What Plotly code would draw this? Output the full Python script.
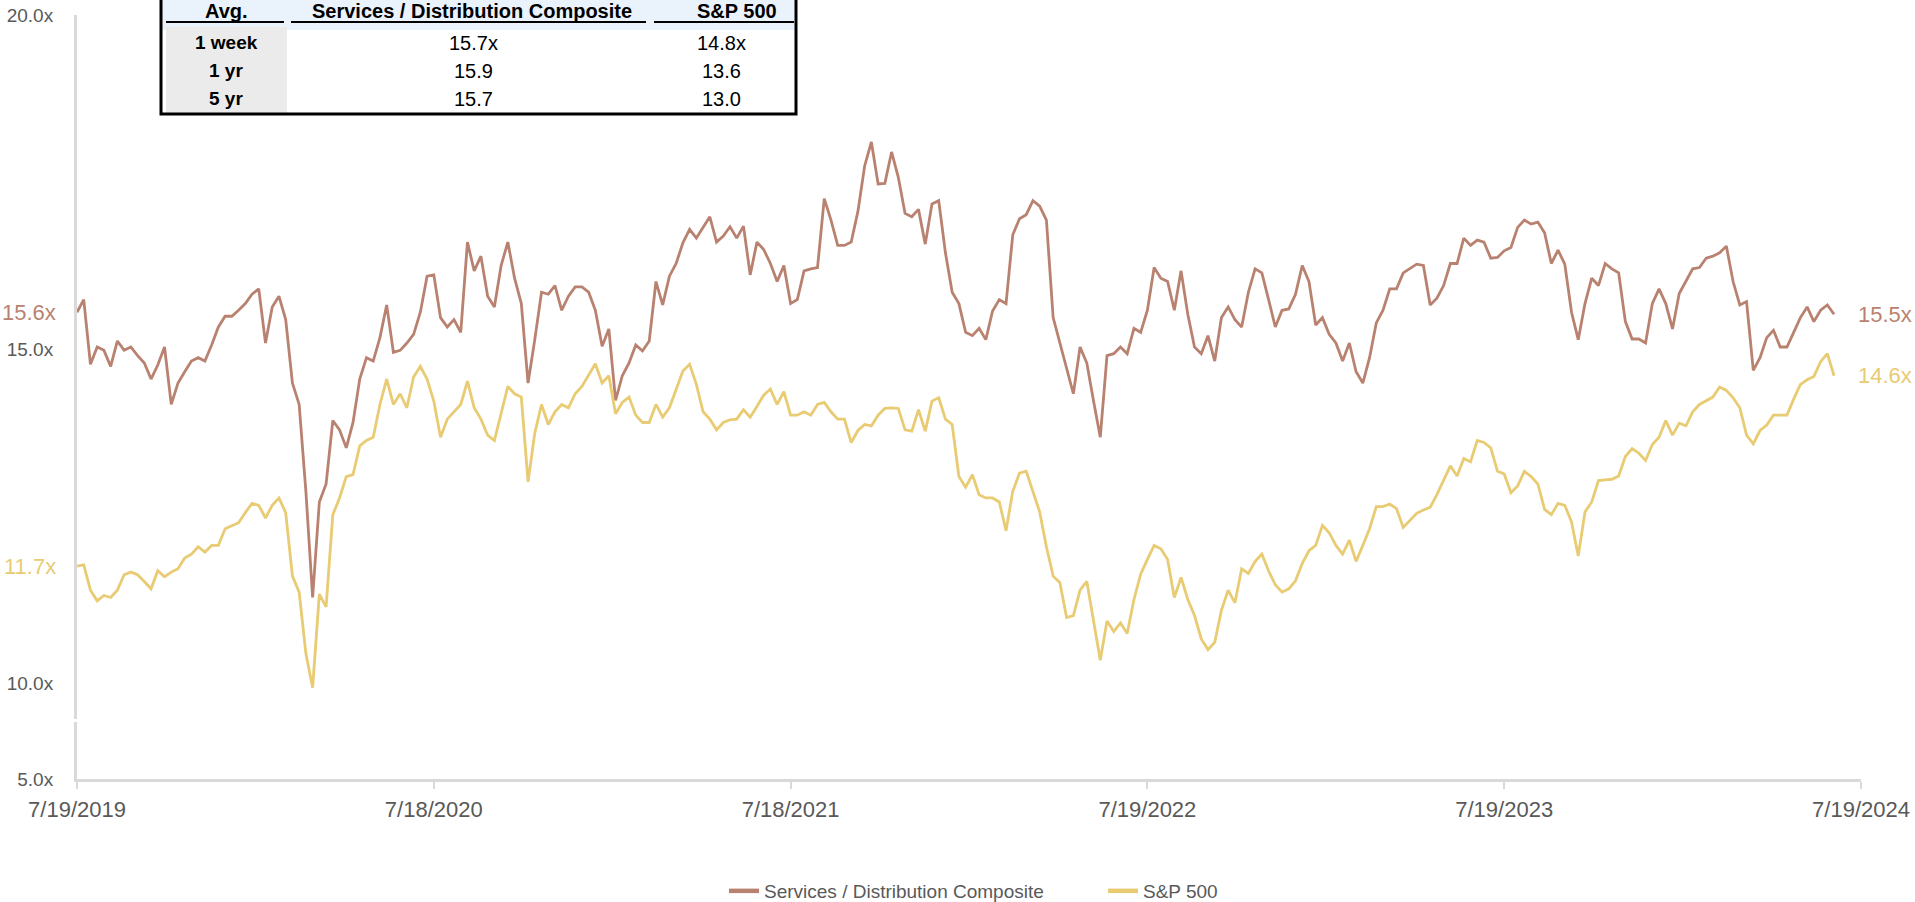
import plotly.graph_objects as go
import pandas as pd

# ---------------- data (weekly readings, 7/19/2019 - 7/19/2024) ----------------
week_dates = pd.date_range("2019-07-19", periods=262, freq="7D")

composite = [
    15.55, 15.74, 14.77, 15.03, 14.98, 14.74, 15.12, 14.98, 15.03, 14.90,
    14.79, 14.55, 14.76, 15.03, 14.17, 14.49, 14.66, 14.82, 14.87, 14.82,
    15.06, 15.33, 15.49, 15.49, 15.58, 15.68, 15.82, 15.90, 15.09, 15.63,
    15.79, 15.44, 14.49, 14.17, 12.87, 11.28, 12.71, 12.98, 13.93, 13.79,
    13.52, 13.90, 14.55, 14.87, 14.82, 15.17, 15.66, 14.95, 14.98, 15.09,
    15.22, 15.55, 16.09,
    16.11, 15.47, 15.33, 15.44, 15.25, 16.60, 16.17, 16.39, 15.79, 15.63,
    16.25, 16.60, 16.06, 15.68, 14.49, 15.14, 15.85, 15.82, 15.95, 15.58,
    15.79, 15.93, 15.93, 15.85, 15.58, 15.04, 15.30, 14.23, 14.60, 14.79,
    15.06, 14.97, 15.12, 16.01, 15.66, 16.09, 16.28, 16.59, 16.79, 16.66,
    16.83, 16.98, 16.60, 16.69, 16.83, 16.66, 16.84, 16.11, 16.60, 16.49,
    16.28, 16.01, 16.25,
    15.68, 15.74, 16.17, 16.20, 16.22, 17.25, 16.93, 16.55, 16.55, 16.60,
    17.06, 17.74, 18.10, 17.47, 17.48, 17.95, 17.57, 17.03, 16.98, 17.09,
    16.57, 17.17, 17.22, 16.44, 15.85, 15.68, 15.25, 15.20, 15.31, 15.14,
    15.57, 15.74, 15.68, 16.71, 16.95, 17.01, 17.22, 17.14, 16.93, 15.47,
    15.09, 14.71, 14.33, 15.03, 14.79, 14.22, 13.68, 14.90, 14.93, 15.03,
    14.93, 15.31, 15.25,
    15.58, 16.22, 16.06, 16.01, 15.58, 16.17, 15.52, 15.03, 14.93, 15.20,
    14.82, 15.47, 15.63, 15.44, 15.33, 15.85, 16.20, 16.14, 15.74, 15.33,
    15.58, 15.60, 15.82, 16.25, 16.01, 15.36, 15.47, 15.22, 15.09, 14.82,
    15.09, 14.66, 14.49, 14.87, 15.39, 15.58, 15.90, 15.90, 16.14, 16.20,
    16.27, 16.25, 15.66, 15.76, 15.95, 16.28, 16.28, 16.66, 16.55, 16.63,
    16.60, 16.36, 16.37,
    16.47, 16.52, 16.82, 16.93, 16.87, 16.90, 16.74, 16.28, 16.48, 16.27,
    15.55, 15.14, 15.68, 16.06, 15.95, 16.28, 16.20, 16.14, 15.41, 15.15,
    15.15, 15.09, 15.68, 15.90, 15.68, 15.30, 15.83, 16.01, 16.20, 16.22,
    16.36, 16.39, 16.44, 16.54, 16.01, 15.66, 15.71, 14.68, 14.87, 15.17,
    15.28, 15.03, 15.03, 15.25, 15.47, 15.63, 15.41, 15.58, 15.66, 15.52,
]

sp500 = [
    11.75, 11.77, 11.39, 11.23, 11.31, 11.28, 11.39, 11.62, 11.66, 11.62,
    11.52, 11.41, 11.68, 11.59, 11.66, 11.71, 11.87, 11.93, 12.04, 11.96,
    12.06, 12.06, 12.31, 12.36, 12.40, 12.55, 12.69, 12.66, 12.47, 12.66,
    12.77, 12.55, 11.60, 11.36, 10.44, 9.93, 11.33, 11.14, 12.52, 12.77,
    13.09, 13.12, 13.55, 13.63, 13.68, 14.17, 14.55, 14.17, 14.33, 14.12,
    14.58, 14.74, 14.55,
    14.22, 13.68, 13.95, 14.06, 14.17, 14.52, 14.12, 13.95, 13.71, 13.63,
    14.03, 14.44, 14.33, 14.28, 13.01, 13.74, 14.17, 13.87, 14.06, 14.17,
    14.12, 14.33, 14.44, 14.60, 14.78, 14.49, 14.60, 14.03, 14.20, 14.28,
    14.01, 13.90, 13.90, 14.17, 13.98, 14.12, 14.39, 14.67, 14.77, 14.47,
    14.06, 13.95, 13.79, 13.90, 13.94, 13.95, 14.09, 13.98, 14.14, 14.31,
    14.40, 14.17, 14.36,
    14.01, 14.01, 14.06, 14.01, 14.17, 14.20, 14.06, 13.95, 13.95, 13.60,
    13.78, 13.87, 13.85, 14.01, 14.11, 14.12, 14.11, 13.79, 13.77, 14.09,
    13.77, 14.22, 14.27, 13.95, 13.87, 13.09, 12.93, 13.12, 12.82, 12.77,
    12.77, 12.71, 12.28, 12.87, 13.14, 13.17, 12.87, 12.56, 12.04, 11.60,
    11.50, 10.98, 11.01, 11.39, 11.52, 10.93, 10.34, 10.93, 10.77, 10.90,
    10.74, 11.25, 11.63,
    11.85, 12.06, 12.01, 11.85, 11.28, 11.58, 11.25, 11.01, 10.66, 10.50,
    10.61, 11.09, 11.39, 11.20, 11.71, 11.64, 11.82, 11.93, 11.68, 11.47,
    11.36, 11.41, 11.53, 11.79, 11.98, 12.06, 12.36, 12.25, 12.06, 11.93,
    12.14, 11.82, 12.06, 12.31, 12.64, 12.64, 12.68, 12.61, 12.33, 12.44,
    12.54, 12.59, 12.63, 12.82, 13.04, 13.25, 13.10, 13.36, 13.31, 13.63,
    13.60, 13.52, 13.17,
    13.13, 12.85, 12.95, 13.17, 13.09, 12.98, 12.60, 12.52, 12.69, 12.66,
    12.41, 11.90, 12.56, 12.71, 13.03, 13.04, 13.05, 13.10, 13.39, 13.51,
    13.44, 13.33, 13.57, 13.68, 13.93, 13.71, 13.89, 13.85, 14.06, 14.17,
    14.22, 14.28, 14.43, 14.38, 14.27, 14.12, 13.71, 13.58, 13.78, 13.86,
    14.01, 14.01, 14.01, 14.25, 14.47, 14.54, 14.59, 14.81, 14.93, 14.60,
]

series_names = ["Services / Distribution Composite", "S&P 500"]
start_labels = ["15.6x", "11.7x"]
end_labels = ["15.5x", "14.6x"]

x_tick_index = [0, 53, 106, 159, 212, 265]
x_tick_labels = ["7/19/2019", "7/18/2020", "7/18/2021", "7/19/2022", "7/19/2023", "7/19/2024"]
y_tick_values = [10, 15, 20]
y_tick_labels = ["10.0x", "15.0x", "20.0x"]
y_low_tick_values = [5]
y_low_tick_labels = ["5.0x"]

table_header = ["Avg.", "Services / Distribution Composite", "S&P 500"]
table_periods = ["1 week", "1 yr", "5 yr"]
table_composite = ["15.7x", "15.9", "15.7"]
table_sp500 = ["14.8x", "13.6", "13.0"]

# ---------------- style ----------------
W, H = 1915, 902
ML, MR, MT, MB = 77, 54, 15, 123
PW, PH = W - ML - MR, H - MT - MB
COLORS = ["#B98270", "#E8CB72"]
AXIS_GREY = "#D9D9D9"
TEXT_GREY = "#595959"
FONT = "Liberation Sans, Arial, sans-serif"


def xp(px):
    return (px - ML) / PW


def yp(py):
    return (MT + PH - py) / PH


x_index = list(range(len(composite)))
date_text = [d.strftime("%m/%d/%Y") for d in week_dates]

fig = go.Figure()
for i, (name, vals, col) in enumerate(zip(series_names, [composite, sp500], COLORS)):
    fig.add_trace(go.Scatter(
        x=x_index, y=vals, name=name, mode="lines",
        line=dict(color=col, width=2.8),
        customdata=date_text, legendgroup=f"g{i}", showlegend=False,
        hovertemplate="%{customdata}<br>%{y:.1f}x<extra>" + name + "</extra>",
        xaxis="x", yaxis="y",
    ))
# legend entries (thicker swatches, linked to the series above)
for i, (name, col) in enumerate(zip(series_names, COLORS)):
    fig.add_trace(go.Scatter(x=[None], y=[None], name=name, mode="lines",
                             line=dict(color=col, width=4.5), legendgroup=f"g{i}",
                             hoverinfo="skip", xaxis="x", yaxis="y"))
# empty trace so the lower (broken) axis segment is drawn
fig.add_trace(go.Scatter(x=[], y=[], xaxis="x", yaxis="y2", showlegend=False,
                         hoverinfo="skip", mode="lines"))

# start / end value labels
annotations = []
for vals, col, s_lab, e_lab in zip([composite, sp500], COLORS, start_labels, end_labels):
    annotations.append(dict(x=xp(58), xref="paper", y=vals[0], yref="y", text=s_lab,
                            showarrow=False, xanchor="right", yanchor="middle",
                            font=dict(family=FONT, size=22, color=col)))
    annotations.append(dict(x=xp(1856), xref="paper", y=vals[-1], yref="y", text=e_lab,
                            showarrow=False, xanchor="left", yanchor="middle",
                            font=dict(family=FONT, size=22, color=col)))

# ---------------- table (top-left) ----------------
shapes = []
shapes.append(dict(type="rect", xref="paper", yref="paper", x0=xp(162), x1=xp(795),
                   y0=yp(30), y1=yp(-4), fillcolor="#EAF2FB", line=dict(width=0), layer="above"))
shapes.append(dict(type="rect", xref="paper", yref="paper", x0=xp(166), x1=xp(287),
                   y0=yp(113), y1=yp(27), fillcolor="#EBEBEB", line=dict(width=0), layer="above"))
for a, b in [(166, 284), (291, 646), (654, 794)]:
    shapes.append(dict(type="line", xref="paper", yref="paper", x0=xp(a), x1=xp(b),
                       y0=yp(22), y1=yp(22), line=dict(color="#000000", width=2), layer="above"))
shapes.append(dict(type="rect", xref="paper", yref="paper", x0=xp(161), x1=xp(796),
                   y0=yp(114), y1=yp(-6), line=dict(color="#000000", width=3), layer="above"))

col_x = [226, 472, 737]
for cx, txt in zip(col_x, table_header):
    annotations.append(dict(x=xp(cx), y=yp(11), xref="paper", yref="paper", text="<b>" + txt + "</b>",
                            showarrow=False, xanchor="center", yanchor="middle",
                            font=dict(family=FONT, size=20, color="#000000")))
row_y = [43, 71, 99]
for ry, per, cv, sv in zip(row_y, table_periods, table_composite, table_sp500):
    annotations.append(dict(x=xp(col_x[0]), y=yp(ry), xref="paper", yref="paper", text="<b>" + per + "</b>",
                            showarrow=False, xanchor="center", yanchor="middle",
                            font=dict(family=FONT, size=19, color="#000000")))
    annotations.append(dict(x=xp(473), y=yp(ry), xref="paper", yref="paper", text=cv,
                            showarrow=False, xanchor="center", yanchor="middle",
                            font=dict(family=FONT, size=20, color="#000000")))
    annotations.append(dict(x=xp(721), y=yp(ry), xref="paper", yref="paper", text=sv,
                            showarrow=False, xanchor="center", yanchor="middle",
                            font=dict(family=FONT, size=20, color="#000000")))

fig.update_layout(
    width=W, height=H,
    margin=dict(l=ML, r=MR, t=MT, b=MB, autoexpand=False),
    paper_bgcolor="white", plot_bgcolor="white",
    showlegend=True,
    legend=dict(orientation="h", x=xp(724), y=yp(891), xanchor="left", yanchor="middle",
                font=dict(family=FONT, size=19, color=TEXT_GREY),
                entrywidth=334, entrywidthmode="pixels", bgcolor="rgba(0,0,0,0)"),
    xaxis=dict(anchor="y2", range=[0, 265], tickmode="array", tickvals=x_tick_index,
               ticktext=x_tick_labels, showline=True, linecolor=AXIS_GREY, linewidth=3,
               ticks="outside", ticklen=7, tickwidth=2, tickcolor=AXIS_GREY,
               showgrid=False, zeroline=False, ticklabelstandoff=2,
               tickfont=dict(family=FONT, size=22, color=TEXT_GREY)),
    yaxis=dict(domain=[0.078, 1], range=[9.455, 20], tickmode="array", tickvals=y_tick_values,
               ticktext=y_tick_labels, showline=True, linecolor=AXIS_GREY, linewidth=3,
               ticks="", showgrid=False, zeroline=False, ticklabelstandoff=17,
               tickfont=dict(family=FONT, size=19, color=TEXT_GREY)),
    yaxis2=dict(domain=[0, 0.075], range=[5, 8], tickmode="array", tickvals=y_low_tick_values,
                ticktext=y_low_tick_labels, showline=True, linecolor=AXIS_GREY, linewidth=3,
                ticks="", showgrid=False, zeroline=False, ticklabelstandoff=17, anchor="x",
                tickfont=dict(family=FONT, size=19, color=TEXT_GREY)),
    shapes=shapes,
    annotations=annotations,
    hovermode="x unified",
)

fig.write_html("out.html")
